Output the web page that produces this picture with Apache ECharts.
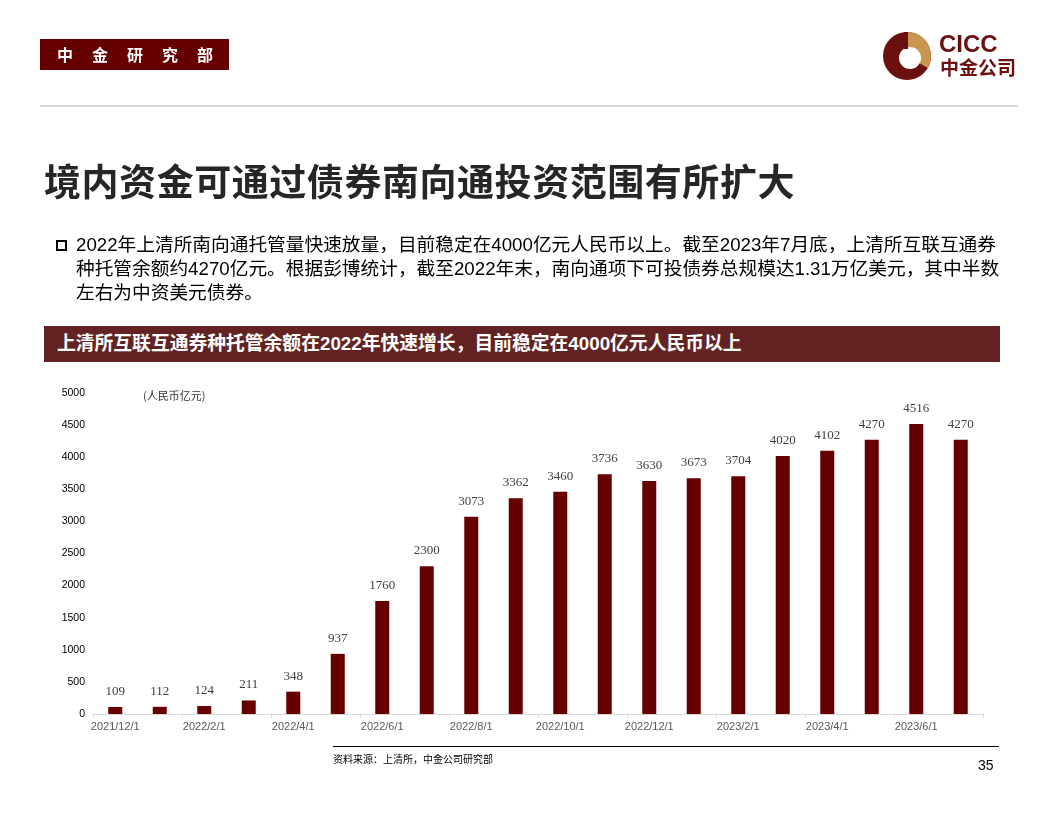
<!DOCTYPE html>
<html>
<head>
<meta charset="utf-8">
<script src="https://cdn.jsdelivr.net/npm/echarts@6/dist/echarts.min.js"></script>
<style>
html,body{margin:0;padding:0;background:#fff;}
body{width:1056px;height:816px;position:relative;overflow:hidden;font-family:"Liberation Sans","Noto Sans CJK SC",sans-serif;}
.abs{position:absolute;}
#chart{position:absolute;left:0;top:0;width:1056px;height:816px;}
</style>
</head>
<body>
<div id="chart"></div>
<div class="abs" style="left:40px;top:39px;width:189px;height:31px;background:#660000;"></div>
<div class="abs" style="left:57px;top:39px;height:31px;line-height:31px;color:#fff;font-weight:bold;font-size:16px;letter-spacing:19px;font-family:'Noto Sans CJK SC';white-space:nowrap;">中金研究部</div>
<div class="abs" style="left:40px;top:105px;width:978px;height:2px;background:#d9d9d9;"></div>
<div class="abs" style="left:44px;top:157px;font-size:37px;line-height:46px;font-weight:bold;color:#262626;font-family:'Noto Sans CJK SC';white-space:nowrap;letter-spacing:0.55px;">境内资金可通过债券南向通投资范围有所扩大</div>
<div class="abs" style="left:56px;top:240px;width:7px;height:7px;border:2px solid #000;"></div>
<div class="abs" style="left:76px;top:233px;font-size:18.7px;line-height:24px;color:#000;white-space:nowrap;">2022年上清所南向通托管量快速放量，目前稳定在4000亿元人民币以上。截至2023年7月底，上清所互联互通券<br>种托管余额约4270亿元。根据彭博统计，截至2022年末，南向通项下可投债券总规模达1.31万亿美元，其中半数<br>左右为中资美元债券。</div>
<div class="abs" style="left:44px;top:326px;width:956px;height:36px;background:#622322;"></div>
<div class="abs" style="left:57px;top:326px;height:36px;line-height:36px;color:#fff;font-weight:bold;font-size:18.8px;white-space:nowrap;">上清所互联互通券种托管余额在2022年快速增长，目前稳定在4000亿元人民币以上</div>
<div class="abs" style="left:333px;top:746px;width:666px;height:1px;background:#000;"></div>
<div class="abs" style="left:333px;top:752px;font-size:10px;line-height:14px;color:#000;font-family:'Noto Sans CJK SC';white-space:nowrap;">资料来源：上清所，中金公司研究部</div>
<div class="abs" style="left:978px;top:756px;font-size:14px;line-height:18px;color:#000;">35</div>
<div class="abs" style="left:939px;top:29px;font-size:24px;line-height:30px;font-weight:bold;color:#6b0f0f;font-family:'Liberation Sans';">CICC</div>
<div class="abs" style="left:940px;top:56px;font-size:19px;line-height:22px;font-weight:bold;color:#6b0f0f;font-family:'Noto Sans CJK SC';white-space:nowrap;">中金公司</div>
<script>
var categories = ['2021/12/1','2022/1/1','2022/2/1','2022/3/1','2022/4/1','2022/5/1','2022/6/1','2022/7/1','2022/8/1','2022/9/1','2022/10/1','2022/11/1','2022/12/1','2023/1/1','2023/2/1','2023/3/1','2023/4/1','2023/5/1','2023/6/1','2023/7/1'];
var values = [109,112,124,211,348,937,1760,2300,3073,3362,3460,3736,3630,3673,3704,4020,4102,4270,4516,4270];
var yTicks = {min:0, max:5000, interval:500};
var unitLabel = '(人民币亿元)';

var chart = echarts.init(document.getElementById('chart'), null, {renderer:'canvas'});
chart.setOption({
  backgroundColor:'transparent',
  animation:false,
  grid:{left:93, right:73, top:393, bottom:102, containLabel:false},
  xAxis:{
    type:'category', data:categories, boundaryGap:true,
    axisLine:{show:true, lineStyle:{color:'#d9d9d9', width:1}},
    axisTick:{show:true, interval:1, length:4, lineStyle:{color:'#d9d9d9'}},
    axisLabel:{interval:1, color:'#595959', fontSize:11, fontFamily:'Liberation Sans', margin:7}
  },
  yAxis:{
    type:'value', min:yTicks.min, max:yTicks.max, interval:yTicks.interval,
    axisLine:{show:false}, axisTick:{show:false}, splitLine:{show:false},
    axisLabel:{color:'#000', fontSize:10.5, fontFamily:'Liberation Sans', margin:8, formatter:function(v){return String(v);}}
  },
  graphic:[
    {type:'text', left:143, top:390, style:{text:unitLabel, fontSize:11, fill:'#333', fontFamily:'Noto Sans CJK SC'}},
    {type:'circle', shape:{cx:907, cy:56, r:24}, style:{fill:'#6b0f0f'}},
    {type:'sector', shape:{cx:907, cy:56, r0:0, r:24, startAngle:-Math.PI/2, endAngle:Math.PI/6, clockwise:true}, style:{fill:'#c8964f'}},
    {type:'circle', shape:{cx:910, cy:58, r:11}, style:{fill:'#fff'}},
    {type:'rect', shape:{x:904, y:32, width:4, height:17}, style:{fill:'#6b0f0f'}}
  ],
  series:[{
    type:'bar', data:values, barWidth:14,
    itemStyle:{color:'#660000'},
    label:{show:true, position:'top', distance:9, color:'#404040', fontSize:13, fontFamily:'Liberation Serif'}
  }]
});
</script>
</body>
</html>
